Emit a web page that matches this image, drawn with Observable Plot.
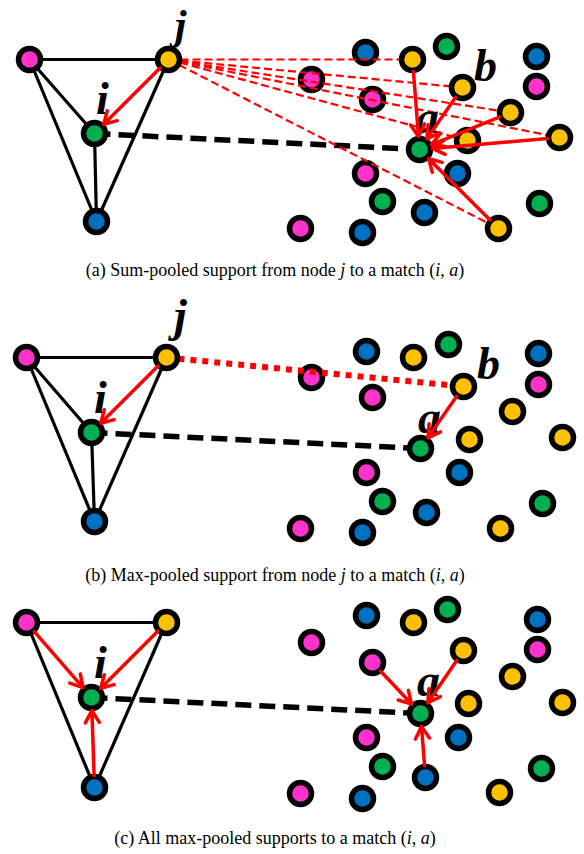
<!DOCTYPE html>
<html><head><meta charset="utf-8">
<script src="https://cdn.jsdelivr.net/npm/d3@7"></script>
<script src="https://cdn.jsdelivr.net/npm/@observablehq/plot@0.6"></script>
<style>
html,body{margin:0;padding:0;background:#fff;overflow:hidden;}
#root{width:584px;}
.cap{width:550px;text-align:center;font-family:"Liberation Serif","Times New Roman",serif;font-size:18px;color:#000;white-space:nowrap;}
.cap i{font-style:italic;}
</style></head><body><div id="root"></div>
<script>
// Node colours
const nodeColors = {m:"#FF33CC", y:"#FFC000", g:"#00B050", b:"#0070C0"};

// ---------- Panel (a) ----------
const graphA = [
  {id:"pm", c:"m", x:29,  y:59},
  {id:"j",  c:"y", x:168, y:59},
  {id:"i",  c:"g", x:94,  y:133},
  {id:"pb", c:"b", x:96,  y:221}];
const edgesA = [["pm","j"],["pm","i"],["pm","pb"],["j","pb"],["i","pb"]];
const cloudA = [
  {id:"c1", c:"b", x:365, y:52},  {id:"y1", c:"y", x:412, y:59},
  {id:"c3", c:"g", x:446, y:46},  {id:"c4", c:"b", x:536, y:56},
  {id:"c5", c:"m", x:311, y:79},  {id:"b",  c:"y", x:462, y:87},
  {id:"c7", c:"m", x:536, y:86},  {id:"c8", c:"m", x:372, y:99},
  {id:"y3", c:"y", x:510, y:112}, {id:"y4", c:"y", x:559, y:137},
  {id:"y5", c:"y", x:467, y:140}, {id:"a",  c:"g", x:419, y:149},
  {id:"c13",c:"m", x:365, y:173}, {id:"c14",c:"b", x:457, y:173},
  {id:"c15",c:"g", x:382, y:201}, {id:"c16",c:"b", x:424, y:212},
  {id:"c17",c:"g", x:539, y:203}, {id:"c18",c:"m", x:300, y:228},
  {id:"c19",c:"b", x:362, y:232}, {id:"y6", c:"y", x:498, y:228}];
const dashedA = [["j","y1"],["j","b"],["j","y3"],["j","y4"],["j","y5"],["j","y6"]];
const dottedA = [];
const arrowsA = [["j","i"],["y1","a"],["b","a"],["y3","a"],["y4","a"],["y6","a"]];
const labelsA = [
  {t:"j", x:180, y:38, s:42}, {t:"i", x:102, y:113, s:46},
  {t:"a", x:427, y:132, s:46}, {t:"b", x:485, y:80, s:46}];

// ---------- Panel (b) ----------
const graphB = [
  {id:"pm", c:"m", x:26,  y:357},
  {id:"j",  c:"y", x:166, y:357},
  {id:"i",  c:"g", x:91,  y:432},
  {id:"pb", c:"b", x:94,  y:521}];
const edgesB = [["pm","j"],["pm","i"],["pm","pb"],["j","pb"],["i","pb"]];
const cloudB = [
  {id:"c1", c:"b", x:366, y:351}, {id:"c2", c:"y", x:413, y:357},
  {id:"c3", c:"g", x:448, y:344}, {id:"c4", c:"b", x:538, y:353},
  {id:"c5", c:"m", x:311, y:377}, {id:"b",  c:"y", x:463, y:386},
  {id:"c7", c:"m", x:538, y:384}, {id:"c8", c:"m", x:372, y:397},
  {id:"c9", c:"y", x:512, y:411}, {id:"c10",c:"y", x:562, y:437},
  {id:"c11",c:"y", x:469, y:439}, {id:"a",  c:"g", x:420, y:448},
  {id:"c13",c:"m", x:366, y:472}, {id:"c14",c:"b", x:459, y:472},
  {id:"c15",c:"g", x:382, y:501}, {id:"c16",c:"b", x:426, y:512},
  {id:"c17",c:"g", x:542, y:503}, {id:"c18",c:"m", x:300, y:528},
  {id:"c19",c:"b", x:362, y:532}, {id:"c20",c:"y", x:500, y:528}];
const dashedB = [];
const dottedB = [["j","b"]];
const arrowsB = [["j","i"],["b","a"]];
const labelsB = [
  {t:"j", x:180, y:330, s:46}, {t:"i", x:100, y:412, s:46},
  {t:"b", x:488, y:378, s:46}, {t:"a", x:429, y:432, s:46}];

// ---------- Panel (c) ----------
const graphC = [
  {id:"pm", c:"m", x:26,  y:622},
  {id:"py", c:"y", x:166, y:622},
  {id:"i",  c:"g", x:91,  y:697},
  {id:"pb", c:"b", x:94,  y:787}];
const edgesC = [["pm","py"],["pm","pb"],["py","pb"]];
const cloudC = [
  {id:"c1", c:"b", x:366, y:615}, {id:"c2", c:"y", x:413, y:622},
  {id:"c3", c:"g", x:447, y:609}, {id:"c4", c:"b", x:537, y:619},
  {id:"c5", c:"m", x:311, y:642}, {id:"qy", c:"y", x:463, y:650},
  {id:"c7", c:"m", x:537, y:649}, {id:"qm", c:"m", x:372, y:662},
  {id:"c9", c:"y", x:512, y:676}, {id:"c10",c:"y", x:562, y:702},
  {id:"c11",c:"y", x:468, y:703}, {id:"a",  c:"g", x:420, y:713},
  {id:"c13",c:"m", x:366, y:737}, {id:"c14",c:"b", x:458, y:737},
  {id:"c15",c:"g", x:382, y:766}, {id:"qb", c:"b", x:425, y:777},
  {id:"c17",c:"g", x:541, y:768}, {id:"c18",c:"m", x:300, y:793},
  {id:"c19",c:"b", x:362, y:798}, {id:"c20",c:"y", x:499, y:792}];
const dashedC = [];
const dottedC = [];
const arrowsC = [["pm","i"],["py","i"],["pb","i"],["qm","a"],["qy","a"],["qb","a"]];
const labelsC = [{t:"i", x:100, y:677, s:46}, {t:"a", x:428, y:695, s:46}];

const captions = [
  '(a) Sum-pooled support from node <i>j</i> to a match (<i>i</i>, <i>a</i>)',
  '(b) Max-pooled support from node <i>j</i> to a match (<i>i</i>, <i>a</i>)',
  '(c) All max-pooled supports to a match (<i>i</i>, <i>a</i>)'];

const panels = [
  {y0:0,   y1:250, graph:graphA, edges:edgesA, cloud:cloudA, dashed:dashedA, dotted:dottedA, arrows:arrowsA, labels:labelsA, capH:40},
  {y0:290, y1:560, graph:graphB, edges:edgesB, cloud:cloudB, dashed:dashedB, dotted:dottedB, arrows:arrowsB, labels:labelsB, capH:30},
  {y0:590, y1:822, graph:graphC, edges:edgesC, cloud:cloudC, dashed:dashedC, dotted:dottedC, arrows:arrowsC, labels:labelsC, capH:32}];

const root = document.getElementById("root");
panels.forEach((p, k) => {
  const nodes = [...p.graph, ...p.cloud];
  const byId = new Map(nodes.map(d => [d.id, d]));
  const seg = ([s, t]) => ({x1: byId.get(s).x, y1: byId.get(s).y, x2: byId.get(t).x, y2: byId.get(t).y});
  const edges = p.edges.map(seg);
  const match = [seg(["i", "a"])];
  const dashed = p.dashed.map(seg);
  const dotted = p.dotted.map(seg);
  const arrows = p.arrows.map(seg);
  const h = p.y1 - p.y0;
  const dotOpts = {x:"x", y:"y", r:11, fill: d => nodeColors[d.c], stroke:"black", strokeWidth:5.5};
  const textMarks = p.labels.map(l => Plot.text([l], {x:"x", y:"y", text:"t", lineAnchor:"bottom", textAnchor:"middle",
        fontFamily:"Liberation Serif", fontSize:l.s, fontWeight:"bold", fontStyle:"italic", fill:"black"}));
  const chart = Plot.plot({
    width: 584, height: h, margin: 0,
    x: {domain: [0, 584], range: [0, 584], axis: null},
    y: {domain: [p.y0, p.y1], range: [0, h], axis: null},
    marks: [
      Plot.link(edges, {x1:"x1", y1:"y1", x2:"x2", y2:"y2", stroke:"black", strokeWidth:3.2}),
      Plot.link(match, {x1:"x1", y1:"y1", x2:"x2", y2:"y2", stroke:"black", strokeWidth:5.5, strokeDasharray:"16,8"}),
      Plot.dot(nodes.filter(d => d.c !== "y"), dotOpts),
      Plot.link(dashed, {x1:"x1", y1:"y1", x2:"x2", y2:"y2", stroke:"#FF0000", strokeWidth:2.2, strokeDasharray:"8,4"}),
      Plot.link(dotted, {x1:"x1", y1:"y1", x2:"x2", y2:"y2", stroke:"#FF0000", strokeWidth:6, strokeDasharray:"6,6"}),
      Plot.dot(nodes.filter(d => d.c === "y"), dotOpts),
      ...textMarks,
      Plot.arrow(arrows, {x1:"x1", y1:"y1", x2:"x2", y2:"y2", stroke:"#FF0000", strokeWidth:3.5,
        headLength:6, headAngle:60, insetStart:12, insetEnd:13})
    ]
  });
  chart.style.display = "block";
  root.appendChild(chart);
  const cap = document.createElement("div");
  cap.className = "cap";
  cap.style.height = p.capH + "px";
  cap.style.lineHeight = p.capH + "px";
  cap.innerHTML = captions[k];
  root.appendChild(cap);
});
</script></body></html>
